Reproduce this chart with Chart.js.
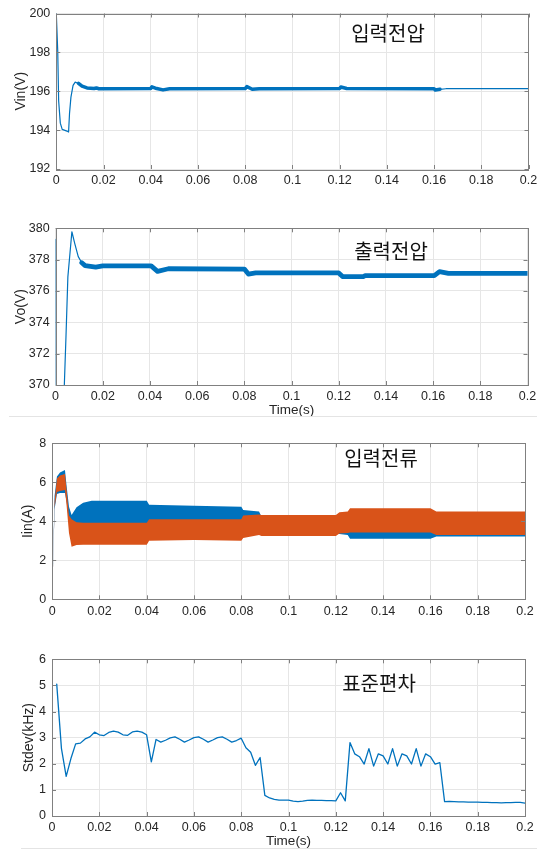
<!DOCTYPE html>
<html>
<head>
<meta charset="utf-8">
<script src="https://cdn.jsdelivr.net/npm/chart.js@4.4.1/dist/chart.umd.min.js"></script>
<style>
  body { margin: 0; background: #fff; }
  #fig { position: relative; width: 545px; height: 849px; overflow: hidden; background: #fff; }
  #fig canvas { position: absolute; left: 0; }
  .lbl { position: absolute; font-family: "Noto Sans CJK KR", sans-serif; font-size: 20px; color: #111; line-height: 1; white-space: nowrap; transform: translate(-50%, -50%); }
  .sep { position: absolute; height: 1px; background: #e4e4e4; }
</style>
</head>
<body>
<div id="fig">
  <canvas id="vin" width="545" height="200" style="top:0px"></canvas>
  <canvas id="vo" width="545" height="220" style="top:200px"></canvas>
  <canvas id="iin" width="545" height="200" style="top:420px"></canvas>
  <canvas id="stdev" width="545" height="209" style="top:640px"></canvas>
  <div class="sep" style="left:9px;width:528px;top:416px"></div>
  <div class="sep" style="left:21px;width:516px;top:848px"></div>
  <div class="lbl" style="left:388px;top:33px">입력전압</div>
  <div class="lbl" style="left:391px;top:251px">출력전압</div>
  <div class="lbl" style="left:381px;top:458px">입력전류</div>
  <div class="lbl" style="left:379px;top:683px">표준편차</div>
</div>
<script>
// values
var xTicksMax = 0.2;

// input voltage (V)
var vinTime = [0, 0.0006, 0.001, 0.0017, 0.0025, 0.0045, 0.0052, 0.0056, 0.0062, 0.0071, 0.008, 0.0094, 0.0109, 0.013, 0.016, 0.017, 0.018, 0.04, 0.0405, 0.0425, 0.0452, 0.048, 0.08, 0.0807, 0.083, 0.086, 0.12, 0.1205, 0.123, 0.16, 0.1605, 0.1625, 0.165, 0.2];
var vinVolt = [200, 198.1, 195.5, 194.36, 194.04, 193.95, 193.9, 194.86, 195.7, 196.3, 196.47, 196.4, 196.26, 196.17, 196.14, 196.17, 196.13, 196.14, 196.23, 196.14, 196.07, 196.13, 196.14, 196.24, 196.1, 196.13, 196.14, 196.22, 196.14, 196.13, 196.06, 196.1, 196.13, 196.13];

// output voltage (V)
var voTime = [0, 0.0003, 0.0037, 0.0044, 0.0052, 0.0069, 0.0081, 0.0096, 0.0111, 0.0125, 0.017, 0.02, 0.0405, 0.0432, 0.0478, 0.08, 0.0817, 0.0848, 0.12, 0.1216, 0.1304, 0.1312, 0.1605, 0.1627, 0.1665, 0.2];
var voVolt = [379.3, 360, 370, 373.1, 376.9, 379.78, 379.04, 378.19, 377.8, 377.62, 377.52, 377.6, 377.6, 377.25, 377.42, 377.4, 377.08, 377.16, 377.15, 376.92, 376.92, 376.98, 376.98, 377.23, 377.12, 377.12];

// input current ripple envelopes (A), phase 1 blue, phase 2 orange
var iinTime = [0, 0.001, 0.002, 0.0033, 0.0054, 0.0061, 0.0071, 0.0082, 0.0103, 0.0131, 0.0167, 0.04, 0.041, 0.06, 0.08, 0.0808, 0.0875, 0.0885, 0.12, 0.1215, 0.125, 0.126, 0.16, 0.1625, 0.2];
var blueUpper = [0, 5.3, 6.3, 6.5, 6.63, 5.8, 4.75, 4.32, 4.72, 4.95, 5.05, 5.05, 4.85, 4.8, 4.75, 4.58, 4.5, 4.25, 4.25, 4.3, 4.3, 4.3, 4.3, 4.3, 4.3];
var blueLower = [0, 4.6, 5.4, 5.45, 5.45, 5.0, 4.0, 3.6, 3.6, 3.6, 3.6, 3.6, 3.8, 3.8, 3.8, 3.6, 3.4, 3.4, 3.35, 3.35, 3.3, 3.1, 3.1, 3.22, 3.22];
var orangeUpper = [0, 5.0, 6.2, 6.35, 6.42, 5.6, 4.3, 4.1, 3.95, 3.93, 3.93, 3.93, 4.1, 4.1, 4.1, 4.3, 4.35, 4.32, 4.32, 4.46, 4.5, 4.67, 4.67, 4.5, 4.5];
var orangeLower = [0, 4.7, 5.5, 5.55, 5.6, 4.8, 3.4, 2.7, 2.78, 2.8, 2.8, 2.8, 3.0, 3.04, 3.0, 3.15, 3.3, 3.25, 3.25, 3.38, 3.4, 3.42, 3.42, 3.3, 3.3];

// switching frequency standard deviation (kHz), one sample every 2 ms
var stdevTime = [];
for (var k = 1; k <= 100; k++) stdevTime.push(k * 0.002);
var stdevKhz = [5.05, 2.58, 1.52, 2.2, 2.76, 2.79, 2.95, 3.03, 3.21, 3.11,
  3.08, 3.2, 3.25, 3.21, 3.11, 3.09, 3.22, 3.25, 3.21, 3.11,
  2.07, 2.93, 2.83, 2.9, 2.99, 3.03, 2.94, 2.83, 2.91, 3.0,
  3.03, 2.94, 2.83, 2.91, 3.0, 3.03, 2.94, 2.83, 2.89, 2.98,
  2.61, 2.44, 1.94, 2.24, 0.79, 0.69, 0.64, 0.61, 0.61, 0.61,
  0.57, 0.55, 0.57, 0.6, 0.61, 0.6, 0.6, 0.59, 0.59, 0.58,
  0.89, 0.58, 2.81, 2.38, 2.27, 1.99, 2.58, 1.91, 2.38, 2.3,
  1.99, 2.58, 1.91, 2.38, 2.3, 1.99, 2.58, 1.91, 2.38, 2.27,
  1.99, 2.04, 0.55, 0.56, 0.55, 0.54, 0.54, 0.53, 0.53, 0.53,
  0.52, 0.52, 0.51, 0.51, 0.5, 0.51, 0.51, 0.52, 0.52, 0.49];

var blue = '#0072BD';
var orange = '#D95319';
var axisColor = '#808080';
var gridColor = '#e6e6e6';
var textColor = '#262626';
var fontFamily = '"Liberation Sans", Arial, Helvetica, sans-serif';

function pairs(xs, ys) {
  return xs.map(function(x, i) { return {x: x, y: ys[i]}; });
}

// MATLAB style box with inward tick marks
var boxPlugin = {
  id: 'box',
  afterDatasetsDraw: function(chart) {
    var a = chart.chartArea, ctx = chart.ctx;
    var sx = chart.scales.x, sy = chart.scales.y;
    ctx.save();
    ctx.strokeStyle = axisColor;
    ctx.lineWidth = 1;
    ctx.beginPath();
    sx.ticks.forEach(function(t) {
      var px = Math.round(sx.getPixelForValue(t.value)) + 0.5;
      ctx.moveTo(px, a.bottom); ctx.lineTo(px, a.bottom - 4);
      ctx.moveTo(px, a.top); ctx.lineTo(px, a.top + 4);
    });
    sy.ticks.forEach(function(t) {
      var py = Math.round(sy.getPixelForValue(t.value)) + 0.5;
      ctx.moveTo(a.left, py); ctx.lineTo(a.left + 4, py);
      ctx.moveTo(a.right, py); ctx.lineTo(a.right - 4, py);
    });
    ctx.stroke();
    ctx.strokeRect(Math.round(a.left) + 0.5, Math.round(a.top) + 0.5,
      Math.round(a.right - a.left), Math.round(a.bottom - a.top));
    ctx.restore();
  }
};

function makeChart(id, datasets, opt) {
  var ctx = document.getElementById(id).getContext('2d');
  return new Chart(ctx, {
    type: 'line',
    data: {datasets: datasets},
    plugins: [boxPlugin],
    options: {
      responsive: false,
      animation: false,
      events: [],
      layout: {padding: {top: opt.padTop, right: opt.padRight, left: 0, bottom: 0}},
      plugins: {legend: {display: false}, tooltip: {enabled: false}},
      elements: {point: {radius: 0}, line: {tension: 0, borderJoinStyle: 'round', borderCapStyle: 'round'}},
      scales: {
        x: {
          type: 'linear',
          min: 0,
          max: xTicksMax,
          afterFit: function(scale) { scale.height = opt.xHeight; },
          grid: {color: gridColor, drawTicks: false},
          border: {display: false},
          ticks: {
            stepSize: 0.02,
            padding: 4.5,
            color: textColor,
            font: {family: fontFamily, size: 12.5},
            maxRotation: 0,
            autoSkip: false,
            callback: function(v) { return String(+v.toFixed(2)); }
          },
          title: {
            display: !!opt.xTitle,
            text: opt.xTitle || '',
            color: textColor,
            font: {family: fontFamily, size: 13.5},
            padding: {top: 0, bottom: opt.xTitlePad || 0}
          }
        },
        y: {
          min: opt.yMin,
          max: opt.yMax,
          afterFit: function(scale) { scale.width = opt.yWidth; },
          grid: {color: gridColor, drawTicks: false},
          border: {display: false},
          ticks: {
            stepSize: opt.yStep,
            padding: 6,
            color: textColor,
            font: {family: fontFamily, size: 12.5}
          },
          title: {
            display: true,
            text: opt.yTitle,
            color: textColor,
            font: {family: fontFamily, size: 14},
            padding: {top: opt.yTitlePad, bottom: 0}
          }
        }
      }
    }
  });
}

// thin transient, thick ripple band
makeChart('vin', [{
  data: pairs(vinTime, vinVolt),
  borderColor: blue,
  borderWidth: 1.2,
  clip: 0,
  segment: {
    borderWidth: function(c) { return (c.p0.parsed.x >= 0.0094 && c.p1.parsed.x <= 0.1625) ? 3.5 : 1.2; }
  }
}], {padTop: 13.3, padRight: 16.5, xHeight: 31, yWidth: 56.3, yMin: 192, yMax: 200, yStep: 2,
  yTitle: 'Vin(V)', yTitlePad: 12.6});

makeChart('vo', [{
  data: pairs(voTime, voVolt),
  borderColor: blue,
  borderWidth: 1.2,
  clip: 0,
  segment: {
    borderWidth: function(c) { return c.p0.parsed.x >= 0.0111 ? 4.8 : 1.2; }
  }
}], {padTop: 28.3, padRight: 17.5, xHeight: 35, yWidth: 55.6, yMin: 370, yMax: 380, yStep: 2,
  yTitle: 'Vo(V)', yTitlePad: 12.6, xTitle: 'Time(s)', xTitlePad: 1.9});

// orange datasets first so they are drawn on top
makeChart('iin', [
  {data: pairs(iinTime, orangeLower), borderWidth: 0, borderColor: orange, fill: false, clip: 0},
  {data: pairs(iinTime, orangeUpper), borderWidth: 0, borderColor: orange, backgroundColor: orange, fill: '-1', clip: 0},
  {data: pairs(iinTime, blueLower), borderWidth: 0, borderColor: blue, fill: false, clip: 0},
  {data: pairs(iinTime, blueUpper), borderWidth: 0, borderColor: blue, backgroundColor: blue, fill: '-1', clip: 0}
], {padTop: 23.3, padRight: 20, xHeight: 20.7, yWidth: 52.2, yMin: 0, yMax: 8, yStep: 2,
  yTitle: 'Iin(A)', yTitlePad: 19.6});

makeChart('stdev', [{
  data: pairs(stdevTime, stdevKhz),
  borderColor: blue,
  borderWidth: 1.3,
  clip: 0
}], {padTop: 19.3, padRight: 20, xHeight: 33, yWidth: 52, yMin: 0, yMax: 6, yStep: 1,
  yTitle: 'Stdev(kHz)', yTitlePad: 21, xTitle: 'Time(s)', xTitlePad: 0});
</script>
</body>
</html>
